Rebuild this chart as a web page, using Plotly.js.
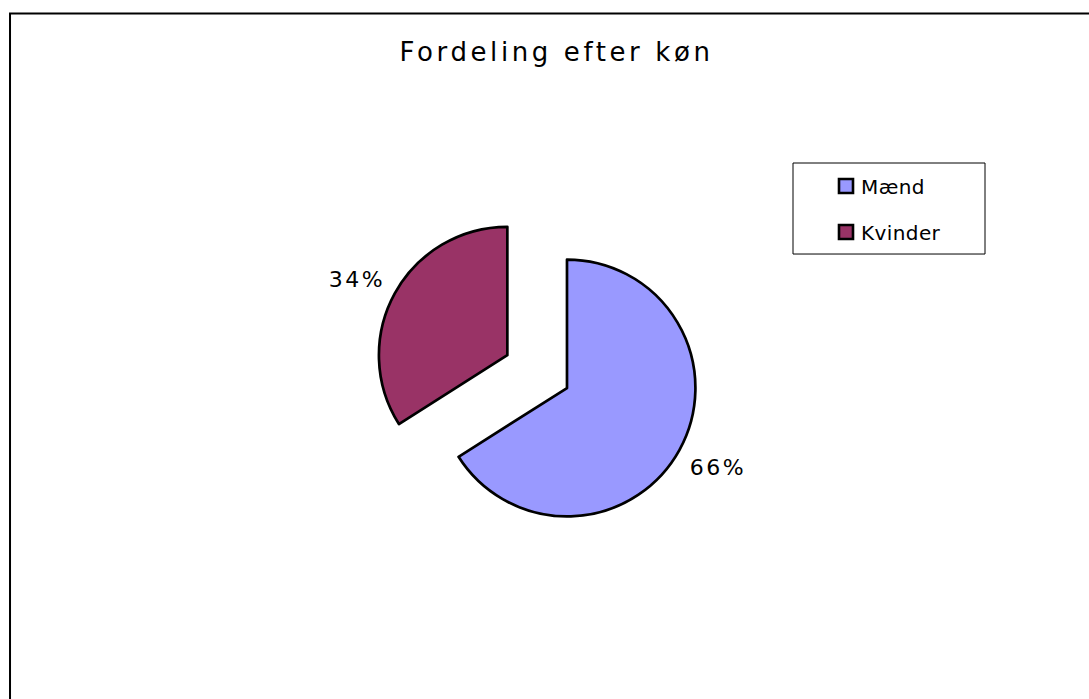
<!DOCTYPE html>
<html>
<head>
<meta charset="utf-8">
<script src="https://cdn.plot.ly/plotly-3.0.1.min.js"></script>
<style>
  html, body { margin: 0; padding: 0; background: #fff; }
  #chart { width: 1089px; height: 699px; }
  .gtitle { letter-spacing: 3.6px; }
  .legendtext { letter-spacing: 0.4px; }
  .slicetext text, text.slicetext { letter-spacing: 2.6px; }
  .legendpie { stroke-width: 2.6px !important; }
</style>
</head>
<body>
<div id="chart"></div>
<script>
// Data
const categories = ['Mænd', 'Kvinder'];
const shares = [66, 34];
const chartTitle = 'Fordeling efter køn';

const FONT = 'DejaVu Sans, Verdana, sans-serif';

const trace = {
  type: 'pie',
  labels: categories,
  values: shares,
  sort: false,
  direction: 'clockwise',
  rotation: 0,
  pull: [0, 0.53],
  marker: {
    colors: ['#9999FF', '#993366'],
    line: { color: '#000000', width: 2.7 }
  },
  textinfo: 'percent',
  texttemplate: '%{percent:.0%}',
  textposition: 'outside',
  outsidetextfont: { family: FONT, size: 22, color: '#000000' },
  hoverinfo: 'none',
  domain: { x: [0.3402, 0.7011], y: [0.1638, 0.7260] },
  automargin: false
};

const layout = {
  width: 1089,
  height: 699,
  margin: { l: 0, r: 0, t: 0, b: 0 },
  paper_bgcolor: '#ffffff',
  font: { family: FONT, color: '#000000' },
  title: {
    text: chartTitle,
    font: { family: FONT, size: 26, color: '#000000' },
    x: 0.511,
    xanchor: 'center',
    xref: 'paper',
    y: 0.926,
    yanchor: 'middle',
    yref: 'paper'
  },
  showlegend: true,
  legend: {
    x: 0.728,
    y: 0.767,
    xanchor: 'left',
    yanchor: 'top',
    bgcolor: 'rgba(0,0,0,0)',
    borderwidth: 0,
    font: { family: FONT, size: 20, color: '#000000' },
    itemwidth: 30,
    traceorder: 'normal'
  },
  shapes: [
    {
      type: 'rect',
      xref: 'paper', yref: 'paper',
      x0: 0.0092, x1: 1.02,
      y0: -0.02, y1: 0.9807,
      line: { color: '#000000', width: 2 },
      fillcolor: 'rgba(0,0,0,0)',
      layer: 'below'
    },
    {
      type: 'rect',
      xref: 'paper', yref: 'paper',
      x0: 0.7282, x1: 0.9045,
      y0: 0.6366, y1: 0.7668,
      line: { color: '#000000', width: 1 },
      fillcolor: '#ffffff',
      layer: 'below'
    }
  ]
};

const gd = document.getElementById('chart');

function parseTranslate(el) {
  const m = /translate\(\s*([-\d.e]+)[\s,]*([-\d.e]*)\s*\)/.exec(el.getAttribute('transform') || '');
  return [m ? parseFloat(m[1]) : 0, m && m[2] ? parseFloat(m[2]) : 0, m ? m[0] : ''];
}

function fixLegend() {
  const svgRect = gd.querySelector('.main-svg').getBoundingClientRect();
  const leg = gd.querySelector('g.legend');
  if (leg) {
    const sb = leg.querySelector('.scrollbox');
    if (sb) sb.removeAttribute('clip-path');
    const items = leg.querySelectorAll('g.traces');
    const targetY = [186, 232];
    const targetX = 846;
    const textLeft = 861;
    items.forEach(function (it, i) {
      const pt = it.querySelector('.legendpoints path');
      if (!pt) return;
      pt.setAttribute('d', 'M7,7H-7V-7H7Z');
      const r = pt.getBoundingClientRect();
      const cx = r.left + r.width / 2 - svgRect.left;
      const cy = r.top + r.height / 2 - svgRect.top;
      const p = parseTranslate(it);
      const tx = p[0] + targetX - cx;
      const ty = p[1] + (targetY[i] !== undefined ? targetY[i] : cy) - cy;
      it.setAttribute('transform', 'translate(' + tx + ',' + ty + ')');
      const t = it.querySelector('text.legendtext');
      if (t) {
        const tr = t.getBoundingClientRect();
        const left = tr.left - svgRect.left;
        const x0 = parseFloat(t.getAttribute('x') || '0');
        t.setAttribute('x', x0 + (textLeft - left));
      }
    });
  }
  // nudge outside percentage labels to sit like the reference
  const labelTargets = [[718, 467], [357, 279]];
  gd.querySelectorAll('g.slice').forEach(function (s, i) {
    const t = s.querySelector('g.slicetext');
    if (!t || !labelTargets[i]) return;
    const r = t.getBoundingClientRect();
    const cx = r.left + r.width / 2 - svgRect.left;
    const cy = r.top + r.height / 2 - svgRect.top;
    const dx = labelTargets[i][0] - cx;
    const dy = labelTargets[i][1] - cy;
    const old = t.getAttribute('transform') || '';
    t.setAttribute('transform', 'translate(' + dx + ',' + dy + ') ' + old);
  });
}

Plotly.newPlot(gd, [trace], layout, { staticPlot: true, displayModeBar: false }).then(fixLegend);
</script>
</body>
</html>
